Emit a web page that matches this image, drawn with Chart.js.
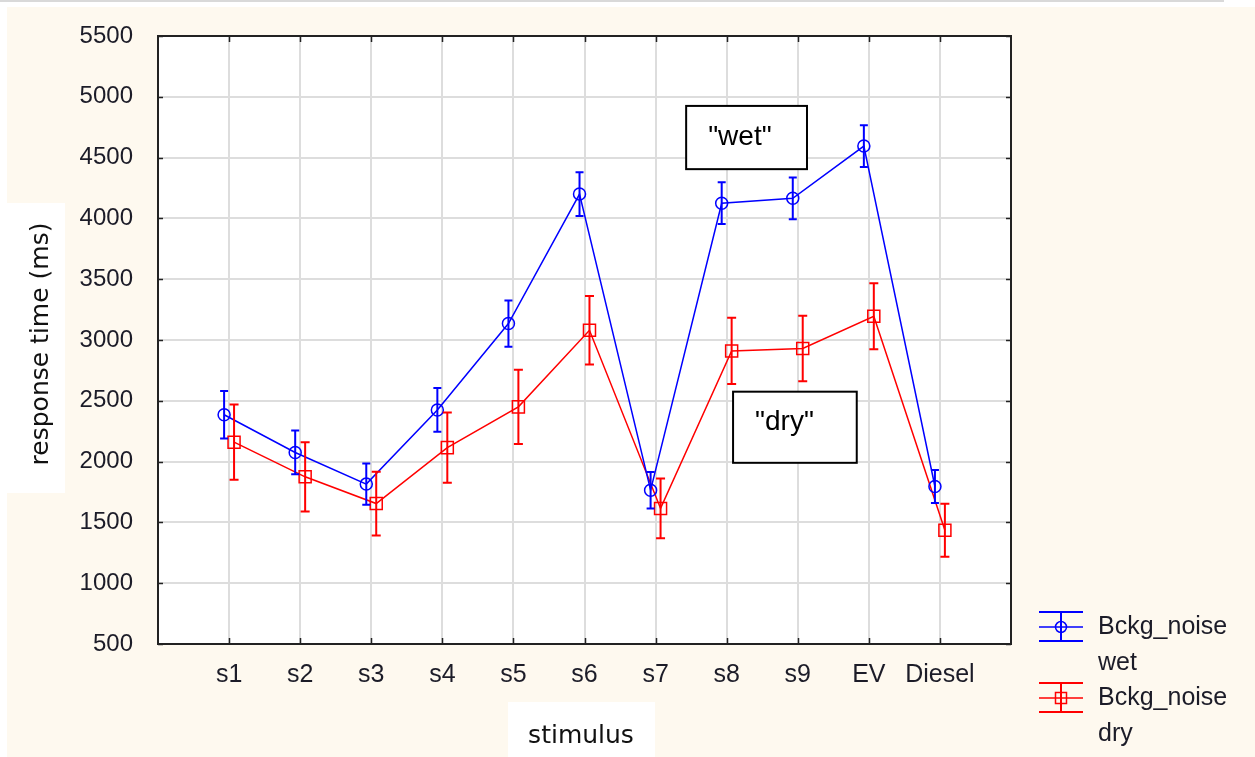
<!DOCTYPE html>
<html>
<head>
<meta charset="utf-8">
<title>Response time by stimulus</title>
<script src="https://cdn.jsdelivr.net/npm/chart.js@4.4.1/dist/chart.umd.min.js"></script>
<style>
  html, body { margin: 0; padding: 0; background: #ffffff; overflow: hidden; }
  canvas { display: block; }
</style>
</head>
<body>
<canvas id="chart" width="1255" height="757"></canvas>
<script>
// Stimulus categories along the x axis
const stimuli = ['s1', 's2', 's3', 's4', 's5', 's6', 's7', 's8', 's9', 'EV', 'Diesel'];

// Mean response time (ms) and error half-width for each background-noise condition
const wetMean = [2385, 2075, 1815, 2425, 3135, 4200, 1765, 4125, 4165, 4595, 1795];
const wetErr  = [195, 180, 170, 180, 190, 180, 150, 172, 172, 172, 135];
const dryMean = [2160, 1875, 1655, 2115, 2450, 3080, 1615, 2910, 2930, 3195, 1435];
const dryErr  = [310, 285, 262, 288, 305, 282, 245, 272, 270, 272, 218];

// Y axis tick values
const yTickValues = [500, 1000, 1500, 2000, 2500, 3000, 3500, 4000, 4500, 5000, 5500];

// Series and annotation labels
const seriesNames = [['Bckg_noise', 'wet'], ['Bckg_noise', 'dry']];
const noteLabels = ['"wet"', '"dry"'];

const BLUE = '#0000ff';
const RED = '#ff0000';
const CREAM = '#fef9ef';
const TEXT = '#1c1c28';
const SANS = "'Liberation Sans', Arial, sans-serif";
const TITLE_FONT = "'DejaVu Sans', Verdana, sans-serif";
const SHIFT = 0.07; // small horizontal offset so the two series' error bars don't overlap

const toPoints = (means, dx) => means.map((v, i) => ({ x: i + 1 + dx, y: v }));

// Background, title boxes and white plotting area
const backdrop = {
  id: 'backdrop',
  beforeDraw(chart) {
    const { ctx, chartArea: a, width, height } = chart;
    ctx.save();
    ctx.fillStyle = '#ffffff';
    ctx.fillRect(0, 0, width, height);
    ctx.fillStyle = '#d9d9d9';
    ctx.fillRect(0, 0, 1224, 2);
    ctx.fillStyle = CREAM;
    ctx.fillRect(7, 7, width - 7, height - 7);
    ctx.fillStyle = '#ffffff';
    ctx.fillRect(a.left, a.top, a.right - a.left, a.bottom - a.top);
    // white boxes behind the axis titles
    ctx.fillRect(7, 203, 58, 290);
    ctx.fillRect(508, 702, 147, 55);
    ctx.restore();
  }
};

// Error bars, frame, tick marks, legend, notes and axis titles
const overlay = {
  id: 'overlay',
  afterDatasetsDraw(chart) {
    const { ctx, chartArea: a, scales: { x, y } } = chart;
    ctx.save();

    const errorBars = (dsIndex, means, errs, color, cap) => {
      const meta = chart.getDatasetMeta(dsIndex);
      ctx.strokeStyle = color;
      ctx.lineWidth = 2;
      meta.data.forEach((pt, i) => {
        const px = pt.x;
        const yt = y.getPixelForValue(means[i] + errs[i]);
        const yb = y.getPixelForValue(means[i] - errs[i]);
        ctx.beginPath();
        ctx.moveTo(px, yt); ctx.lineTo(px, yb);
        ctx.moveTo(px - cap, yt); ctx.lineTo(px + cap, yt);
        ctx.moveTo(px - cap, yb); ctx.lineTo(px + cap, yb);
        ctx.stroke();
      });
    };
    errorBars(0, wetMean, wetErr, BLUE, 4);
    errorBars(1, dryMean, dryErr, RED, 4.5);

    // frame and inward tick marks
    ctx.strokeStyle = '#222222';
    ctx.lineWidth = 1.5;
    yTickValues.forEach(v => {
      const py = Math.round(y.getPixelForValue(v)) + 0.5;
      ctx.beginPath();
      ctx.moveTo(a.left, py); ctx.lineTo(a.left + 5, py);
      ctx.moveTo(a.right, py); ctx.lineTo(a.right - 5, py);
      ctx.stroke();
    });
    stimuli.forEach((s, i) => {
      const px = Math.round(x.getPixelForValue(i + 1)) + 0.5;
      ctx.beginPath();
      ctx.moveTo(px, a.top); ctx.lineTo(px, a.top + 6);
      ctx.moveTo(px, a.bottom); ctx.lineTo(px, a.bottom - 6);
      ctx.stroke();
    });
    ctx.lineWidth = 2;
    ctx.strokeRect(a.left, a.top, a.right - a.left, a.bottom - a.top);

    // annotation boxes placed in data units
    const notes = [
      { label: noteLabels[0], x0: 7.43, x1: 9.13, y0: 4925, y1: 4405 },
      { label: noteLabels[1], x0: 8.09, x1: 9.83, y0: 2575, y1: 1990 }
    ];
    notes.forEach(n => {
      const l = x.getPixelForValue(n.x0), r = x.getPixelForValue(n.x1);
      const t = y.getPixelForValue(n.y0), b = y.getPixelForValue(n.y1);
      ctx.fillStyle = '#ffffff';
      ctx.fillRect(l, t, r - l, b - t);
      ctx.strokeStyle = '#000000';
      ctx.lineWidth = 2;
      ctx.strokeRect(l, t, r - l, b - t);
      ctx.fillStyle = '#000000';
      ctx.font = '28px ' + SANS;
      ctx.textAlign = 'left';
      ctx.textBaseline = 'middle';
      ctx.fillText(n.label, l + 22, t + 31);
    });

    // legend
    const symX = a.right + 50, half = 22, textX = a.right + 87;
    const legendRow = (y0, color, marker, names) => {
      ctx.strokeStyle = color;
      ctx.lineWidth = 2;
      ctx.beginPath();
      ctx.moveTo(symX - half, y0 - 15); ctx.lineTo(symX + half, y0 - 15);
      ctx.moveTo(symX - half, y0 + 14); ctx.lineTo(symX + half, y0 + 14);
      ctx.moveTo(symX, y0 - 15); ctx.lineTo(symX, y0 + 14);
      ctx.stroke();
      ctx.lineWidth = 1.5;
      ctx.beginPath();
      ctx.moveTo(symX - half, y0); ctx.lineTo(symX + half, y0);
      ctx.stroke();
      ctx.beginPath();
      if (marker === 'circle') ctx.arc(symX, y0, 5.5, 0, Math.PI * 2);
      else ctx.rect(symX - 5.5, y0 - 5.5, 11, 11);
      ctx.stroke();
      ctx.fillStyle = TEXT;
      ctx.font = '25px ' + SANS;
      ctx.textAlign = 'left';
      ctx.textBaseline = 'middle';
      ctx.fillText(names[0], textX, y0);
      ctx.fillText(names[1], textX, y0 + 36);
    };
    legendRow(a.bottom - 17, BLUE, 'circle', seriesNames[0]);
    legendRow(a.bottom + 54, RED, 'rect', seriesNames[1]);

    // axis titles
    ctx.fillStyle = '#111111';
    ctx.font = '25px ' + TITLE_FONT;
    ctx.textAlign = 'center';
    ctx.textBaseline = 'middle';
    ctx.fillText('stimulus', 581, 736);
    ctx.translate(41, 344);
    ctx.rotate(-Math.PI / 2);
    ctx.fillText('response time (ms)', 0, 0);

    ctx.restore();
  }
};

new Chart(document.getElementById('chart'), {
  type: 'line',
  data: {
    datasets: [
      {
        label: seriesNames[0].join(' '),
        data: toPoints(wetMean, -SHIFT),
        borderColor: BLUE,
        backgroundColor: 'rgba(0,0,0,0)',
        borderWidth: 1.5,
        pointStyle: 'circle',
        pointRadius: 6,
        pointBorderWidth: 1.5,
        pointBorderColor: BLUE,
        pointBackgroundColor: 'rgba(0,0,0,0)',
        tension: 0
      },
      {
        label: seriesNames[1].join(' '),
        data: toPoints(dryMean, SHIFT),
        borderColor: RED,
        backgroundColor: 'rgba(0,0,0,0)',
        borderWidth: 1.5,
        pointStyle: 'rect',
        pointRadius: 8.5,
        pointBorderWidth: 1.5,
        pointBorderColor: RED,
        pointBackgroundColor: 'rgba(0,0,0,0)',
        tension: 0
      }
    ]
  },
  options: {
    responsive: false,
    animation: false,
    devicePixelRatio: 1,
    layout: { padding: { left: 0, top: 36, right: 244, bottom: 0 } },
    plugins: { legend: { display: false }, tooltip: { enabled: false } },
    scales: {
      x: {
        type: 'linear',
        min: 0,
        max: stimuli.length + 1,
        afterFit(scale) { scale.height = 113; },
        afterBuildTicks(scale) {
          scale.ticks = stimuli.map((s, i) => ({ value: i + 1 }));
        },
        ticks: {
          autoSkip: false,
          maxRotation: 0,
          padding: 16,
          color: TEXT,
          font: { family: SANS, size: 25 },
          callback: v => stimuli[v - 1] || ''
        },
        grid: { color: '#dddddd', lineWidth: 2, drawTicks: false },
        border: { display: false }
      },
      y: {
        type: 'linear',
        min: yTickValues[0],
        max: yTickValues[yTickValues.length - 1],
        afterFit(scale) {
          scale.width = 158;
          scale.paddingTop = 0;
          scale.paddingBottom = 0;
        },
        afterBuildTicks(scale) {
          scale.ticks = yTickValues.map(v => ({ value: v }));
        },
        ticks: {
          padding: 25,
          color: TEXT,
          font: { family: SANS, size: 24 },
          callback: v => String(v)
        },
        grid: { color: '#dddddd', lineWidth: 2, drawTicks: false },
        border: { display: false }
      }
    }
  },
  plugins: [backdrop, overlay]
});
</script>
</body>
</html>
